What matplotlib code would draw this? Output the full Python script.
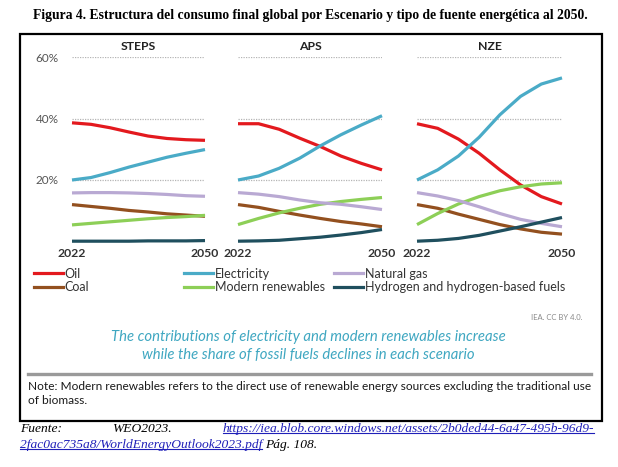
#!/usr/bin/env python3

import matplotlib.pyplot as plt
from matplotlib.lines import Line2D
from matplotlib.patches import Rectangle

W, H = 618, 467

years = [2022, 2026, 2030, 2034, 2038, 2042, 2046, 2050]
scenarios = ['STEPS', 'APS', 'NZE']
fuels = ['Oil', 'Coal', 'Electricity', 'Modern renewables',
         'Natural gas', 'Hydrogen and hydrogen-based fuels']
colors = ['#e3191e', '#93501f', '#4aabc7', '#8dcf57', '#b9a9d3', '#1f4f5e']

# shares of final consumption (%)
steps = {
    'Oil': [38.6, 38.1, 37.0, 35.6, 34.3, 33.5, 33.1, 32.9],
    'Coal': [12.0, 11.4, 10.8, 10.1, 9.6, 9.0, 8.6, 8.2],
    'Electricity': [20.0, 20.8, 22.4, 24.2, 25.8, 27.4, 28.7, 29.9],
    'Modern renewables': [5.4, 5.9, 6.4, 6.9, 7.4, 7.8, 8.1, 8.5],
    'Natural gas': [15.8, 15.9, 15.9, 15.8, 15.6, 15.3, 14.9, 14.7],
    'Hydrogen and hydrogen-based fuels': [0.1, 0.1, 0.1, 0.1, 0.2, 0.2, 0.2, 0.3],
}
aps = {
    'Oil': [38.3, 38.3, 36.5, 33.6, 30.9, 27.8, 25.4, 23.3],
    'Coal': [12.0, 11.1, 9.8, 8.6, 7.5, 6.5, 5.7, 4.8],
    'Electricity': [20.0, 21.3, 23.8, 27.1, 31.1, 34.7, 37.9, 40.9],
    'Modern renewables': [5.5, 7.5, 9.3, 10.8, 12.1, 13.0, 13.7, 14.3],
    'Natural gas': [15.9, 15.4, 14.6, 13.5, 12.6, 12.1, 11.3, 10.4],
    'Hydrogen and hydrogen-based fuels': [0.1, 0.2, 0.4, 0.9, 1.4, 2.1, 2.9, 3.9],
}
nze = {
    'Oil': [38.3, 36.8, 33.3, 28.7, 23.3, 18.4, 14.6, 12.2],
    'Coal': [12.0, 10.8, 8.9, 7.2, 5.5, 4.1, 3.0, 2.4],
    'Electricity': [20.0, 23.3, 27.8, 33.9, 41.2, 47.2, 51.2, 53.2],
    'Modern renewables': [5.5, 9.1, 12.2, 14.6, 16.5, 17.8, 18.7, 19.1],
    'Natural gas': [15.9, 14.8, 13.3, 11.3, 9.1, 7.2, 5.9, 4.8],
    'Hydrogen and hydrogen-based fuels': [0.1, 0.4, 1.0, 2.0, 3.4, 4.8, 6.3, 7.8],
}
data = [steps, aps, nze]

yticks = [20, 40, 60]
ytick_labels = ['20%', '40%', '60%']
xticks = [2022, 2050]

FONT = 'Lato'


def fx(x):
    return x / W


def fy(y):
    return 1 - y / H


def main():
    fig = plt.figure(figsize=(W / 100, H / 100), dpi=100)

    fig.text(fx(310), fy(16), 'Figura 4. Estructura del consumo final global por '
             'Escenario y tipo de fuente energética al 2050.',
             family='Liberation Serif', weight='bold', size=9.8,
             ha='center', va='center')

    fig.patches.append(Rectangle((fx(20), fy(421)), (602 - 20) / W, (421 - 34) / H,
                                 transform=fig.transFigure, fill=False,
                                 lw=1.6, ec='black'))

    panels = [(72, 205), (238, 382), (417, 562)]
    top, bottom = 57, 241.5
    for i, (x0, x1) in enumerate(panels):
        ax = fig.add_axes([fx(x0), fy(bottom), (x1 - x0) / W, (bottom - top) / H])
        ax.set_xlim(2022, 2050)
        ax.set_ylim(0, 60)
        for s in ax.spines.values():
            s.set_visible(False)
        for g in yticks:
            ax.axhline(g, color='#b5b5b5', lw=0.9, ls=(0, (1, 1)), zorder=1)
        for fuel, c in zip(fuels, colors):
            ax.plot(years, data[i][fuel], color=c, lw=2.3, clip_on=False,
                    solid_capstyle='butt', solid_joinstyle='round', zorder=3)
        ax.set_xticks(xticks)
        ax.set_xticklabels([str(x) for x in xticks], family=FONT,
                           weight='bold', size=8.8, color='#333333')
        ax.tick_params(axis='x', length=0, pad=4.5)
        if i == 0:
            ax.set_yticks(yticks)
            ax.set_yticklabels(ytick_labels, family=FONT, size=8.5,
                               color='#555555')
            ax.tick_params(axis='y', length=0, pad=9.5)
        else:
            ax.set_yticks([])
        ax.patch.set_alpha(0)
        fig.text(fx((x0 + x1) / 2), fy(46), scenarios[i], family=FONT,
                 weight='bold', size=8.8, color='#222222',
                 ha='center', va='center')

    # legend, three columns of two entries
    cols = [(38, [0, 1]), (188, [2, 3]), (338, [4, 5])]
    for x, idx in cols:
        handles = [Line2D([], [], color=colors[k], lw=2.3) for k in idx]
        leg = fig.legend(handles, [fuels[k] for k in idx],
                         loc='upper left', bbox_to_anchor=(fx(x - 4), fy(267.5)),
                         frameon=False, handlelength=2.3, handletextpad=0.15,
                         labelspacing=0.15, borderpad=0, borderaxespad=0,
                         prop={'family': FONT, 'size': 9})
        for t in leg.get_texts():
            t.set_color('#333333')

    fig.text(fx(582), fy(317), 'IEA. CC BY 4.0.', family=FONT, size=5.5,
             color='#8a8a8a', ha='right', va='center')

    fig.text(fx(308), fy(337), 'The contributions of electricity and modern '
             'renewables increase', family=FONT, style='italic', size=10.7,
             color='#3fa7c1', ha='center', va='center')
    fig.text(fx(308), fy(355), 'while the share of fossil fuels declines in '
             'each scenario', family=FONT, style='italic', size=10.7,
             color='#3fa7c1', ha='center', va='center')

    fig.add_artist(Line2D([fx(28), fx(591)], [fy(374), fy(374)],
                          color='#9a9a9a', lw=2.4))

    fig.text(fx(28), fy(387), 'Note: Modern renewables refers to the direct use '
             'of renewable energy sources excluding the traditional use',
             family=FONT, size=8.55, color='#1a1a1a', ha='left', va='center')
    fig.text(fx(28), fy(400), 'of biomass.', family=FONT, size=8.55,
             color='#1a1a1a', ha='left', va='center')

    # source lines
    serif = dict(family='Liberation Serif', style='italic', size=9.7,
                 va='center')
    link_color = '#1f1fb8'
    fig.text(fx(20), fy(429), 'Fuente:', ha='left', **serif)
    fig.text(fx(112), fy(429), 'WEO2023.', ha='left', **serif)
    l1 = fig.text(fx(594), fy(429), 'https://iea.blob.core.windows.net/assets/'
                  '2b0ded44-6a47-495b-96d9-', ha='right', color=link_color,
                  **serif)
    l2 = fig.text(fx(20), fy(445), '2fac0ac735a8/WorldEnergyOutlook2023.pdf',
                  ha='left', color=link_color, **serif)
    fig.canvas.draw()
    r = fig.canvas.get_renderer()
    for t in (l1, l2):
        bb = t.get_window_extent(r).transformed(fig.transFigure.inverted())
        fig.add_artist(Line2D([bb.x0, bb.x1], [bb.y0 + 0.004, bb.y0 + 0.004],
                              color=link_color, lw=0.8))
    bb = l2.get_window_extent(r).transformed(fig.transFigure.inverted())
    fig.text(bb.x1 + 0.004, fy(445), 'Pág. 108.', ha='left', **serif)

    fig.savefig('out.png', dpi=100)


if __name__ == '__main__':
    main()
